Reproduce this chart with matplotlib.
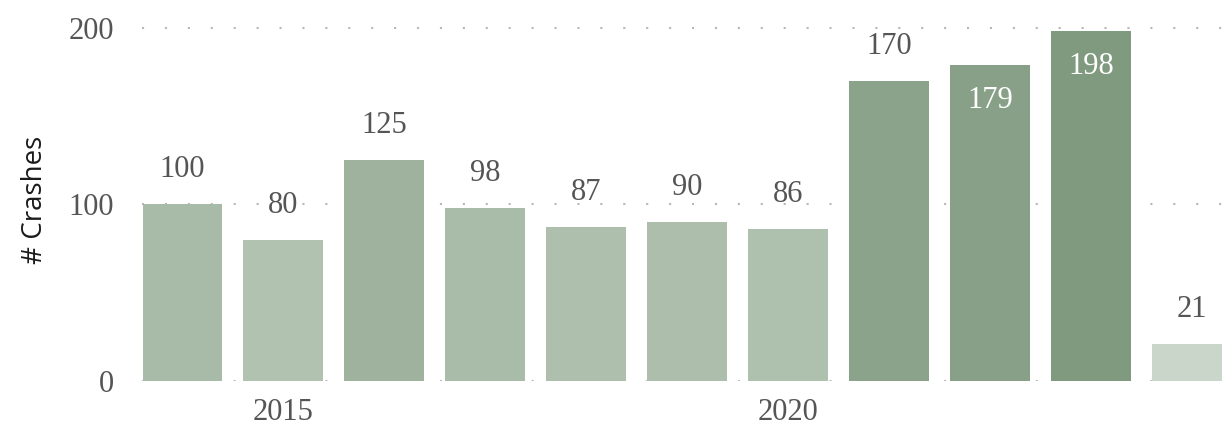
import numpy as np
import matplotlib.pyplot as plt
import matplotlib.colors as mcolors

# datos del grafico
years = np.arange(2014, 2025)
crashes = [100, 80, 125, 98, 87, 90, 86, 170, 179, 198, 21]
tick_years = [2015, 2020]
inside_labels = [179, 198]

fig = plt.figure(figsize=(12.22, 4.29), dpi=100)
ax = fig.add_axes([142 / 1222, 48 / 429, 1 - 142 / 1222, 362 / 429])

# color segun el valor (claro -> oscuro)
cmap = mcolors.LinearSegmentedColormap.from_list("verdes", ["#d3ddd3", "#7e997e"])
norm = mcolors.Normalize(vmin=0, vmax=200)
colores = [cmap(norm(v)) for v in crashes]

x = years - years[0]
ax.bar(x, crashes, width=0.79, color=colores, zorder=2)

serif = ["Liberation Serif", "DejaVu Serif"]
for xi, v in zip(x, crashes):
    if v in inside_labels:
        ax.text(xi, v - 20, str(v), ha="center", va="center", color="white",
                fontsize=22, family=serif, zorder=3)
    else:
        ax.text(xi, v + 19.5, str(v), ha="center", va="center", color="#555555",
                fontsize=22, family=serif, zorder=3)

ax.set_xlim(-0.4, 10.3)
ax.set_ylim(0, 205)
ax.set_yticks([0, 100, 200])
ax.set_xticks([y - years[0] for y in tick_years])
ax.set_xticklabels([str(y) for y in tick_years])
ax.tick_params(length=0, labelsize=22, labelcolor="#555555")
ax.tick_params(axis="y", pad=20)
ax.tick_params(axis="x", pad=12)
for lab in ax.get_xticklabels() + ax.get_yticklabels():
    lab.set_family(serif)

ax.grid(axis="y", linestyle=(0, (1, 10)), color="#b8b8b8", linewidth=1.5, zorder=0)
ax.set_axisbelow(True)
for s in ax.spines.values():
    s.set_visible(False)

ax.set_ylabel("# Crashes", fontsize=20, family=["Open Sans", "DejaVu Sans"],
              color="#1a1a1a", labelpad=14)

fig.savefig("out.png", dpi=100)
